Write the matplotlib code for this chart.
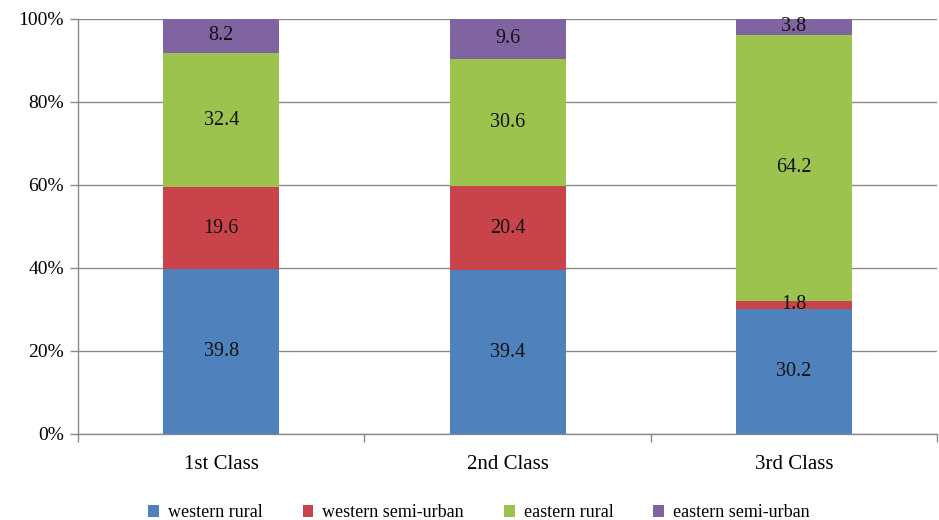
import matplotlib
matplotlib.use("Agg")
import matplotlib.pyplot as plt
import numpy as np

plt.rcParams["font.family"] = ["Liberation Serif", "DejaVu Serif"]

classes = ["1st Class", "2nd Class", "3rd Class"]
series_names = ["western rural", "western semi-urban", "eastern rural", "eastern semi-urban"]
western_rural = [39.8, 39.4, 30.2]
western_semi_urban = [19.6, 20.4, 1.8]
eastern_rural = [32.4, 30.6, 64.2]
eastern_semi_urban = [8.2, 9.6, 3.8]
colors = ["#4F81BD", "#C9444A", "#9BC34E", "#8064A2"]

series = [western_rural, western_semi_urban, eastern_rural, eastern_semi_urban]

fig = plt.figure(figsize=(9.39, 5.2), dpi=100)
ax = fig.add_axes([0.0831, 0.1654, 0.915, 0.7981])

x = np.arange(len(classes))
bottom = np.zeros(len(classes))
for name, vals, col in zip(series_names, series, colors):
    vals = np.array(vals)
    ax.bar(x, vals, width=0.405, bottom=bottom, color=col, label=name, zorder=3)
    for xi, b, v in zip(x, bottom, vals):
        ax.text(xi, b + v / 2, f"{v:.1f}", ha="center", va="center",
                fontsize=14.5, color="#111111", zorder=4)
    bottom += vals

ax.set_xlim(-0.5, 2.5)
ax.set_ylim(0, 100)
ax.set_yticks(range(0, 101, 20))
ax.set_yticklabels([f"{v}%" for v in range(0, 101, 20)], fontsize=14)
ax.yaxis.grid(True, color="#8a8a8a", linewidth=1, zorder=0)
ax.set_xticks([-0.5, 0.5, 1.5, 2.5])
ax.set_xticklabels([])
ax.set_xticks(x, minor=True)
ax.set_xticklabels(classes, minor=True, fontsize=15)
ax.tick_params(axis="x", which="minor", length=0, pad=15)
ax.tick_params(axis="x", which="major", length=6, color="#8a8a8a", width=1)
ax.tick_params(axis="y", length=6, color="#8a8a8a", width=1, pad=4)

for s in ["top", "right"]:
    ax.spines[s].set_visible(False)
for s in ["left", "bottom"]:
    ax.spines[s].set_color("#8a8a8a")
    ax.spines[s].set_linewidth(1)

fig.legend(loc="lower center", ncol=4, frameon=False, fontsize=13,
           bbox_to_anchor=(0.51, -0.034), handlelength=0.6, handleheight=0.6,
           handletextpad=0.5, columnspacing=2.2)

fig.savefig("out.png", dpi=100)
